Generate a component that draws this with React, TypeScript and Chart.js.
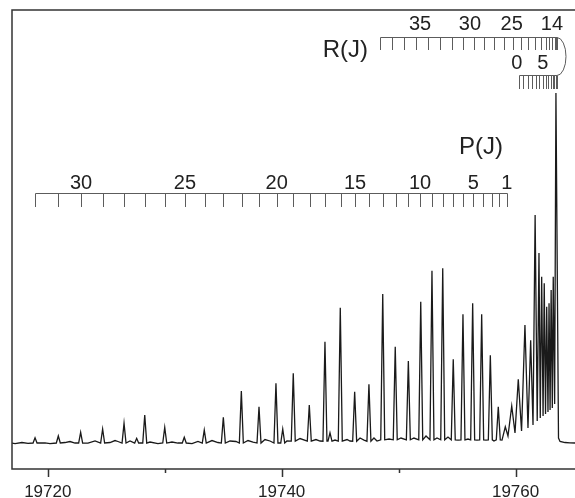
import React, { useEffect, useRef } from 'react';
import { Chart, registerables } from 'chart.js';

Chart.register(...registerables);

// ---------- axis ----------
const xMin = 19716.94;
const xMax = 19765.08;
const yMin = -5.66;
const yMax = 94.34;
const xTickValues = [19720, 19730, 19740, 19750, 19760];
const xLabelValues = [19720, 19740, 19760];

// ---------- P branch assignment comb (J = 1 .. 32) ----------
const pJ = [1, 2, 3, 4, 5, 6, 7, 8, 9, 10, 11, 12, 13, 14, 15, 16, 17, 18, 19, 20, 21, 22, 23, 24, 25, 26, 27, 28, 29, 30, 31, 32];
const pWn = [
  19759.24, 19758.61, 19757.96, 19757.19, 19756.38, 19755.53, 19754.67, 19753.77,
  19752.83, 19751.83, 19750.77, 19749.75, 19748.64, 19747.46, 19746.27, 19745.04,
  19743.70, 19742.42, 19740.99, 19739.57, 19738.08, 19736.58, 19735.01, 19733.44,
  19731.73, 19730.02, 19728.31, 19726.54, 19724.69, 19722.84, 19720.85, 19718.91,
];
const pLabelJ = [1, 5, 10, 15, 20, 25, 30];

// ---------- R branch comb, upper part (J = 36 .. 14, head at 14) ----------
const rUpperJ = [36, 35, 34, 33, 32, 31, 30, 29, 28, 27, 26, 25, 24, 23, 22, 21, 20, 19, 18, 17, 16, 15, 14];
const rUpperWn = [
  19748.41, 19749.45, 19750.48, 19751.51, 19752.55, 19753.54, 19754.55, 19755.52,
  19756.46, 19757.32, 19758.17, 19758.97, 19759.74, 19760.45, 19761.10, 19761.68,
  19762.16, 19762.56, 19762.87, 19763.13, 19763.33, 19763.46, 19763.54,
];
const rUpperLabels = ['35', '30', '25', '14'];
const rUpperLabelWn = [19751.83, 19756.10, 19759.67, 19763.11];

// ---------- R branch comb, lower part (J = 0 .. 13) ----------
const rLowerJ = [0, 1, 2, 3, 4, 5, 6, 7, 8, 9, 10, 11, 12, 13];
const rLowerWn = [
  19760.29, 19760.66, 19761.04, 19761.38, 19761.72, 19762.03, 19762.32,
  19762.57, 19762.80, 19763.00, 19763.17, 19763.31, 19763.43, 19763.51,
];
const rLowerLabels = ['0', '5'];
const rLowerLabelWn = [19760.10, 19762.32];

// ---------- spectrum: line peaks ----------
const peakWn = [
  19718.91, 19720.90, 19722.81, 19724.69, 19726.52, 19727.60, 19728.29, 19730.00,
  19731.67, 19733.38, 19735.01, 19736.55, 19738.06, 19739.51, 19740.09, 19740.99,
  19742.36, 19743.70, 19744.13, 19745.01, 19746.24, 19747.46, 19748.64, 19749.71,
  19750.83, 19751.89, 19752.85, 19753.77, 19754.67, 19755.50, 19756.33, 19757.10,
  19757.84, 19758.52, 19759.12, 19759.67, 19760.23, 19760.80, 19761.29, 19761.67,
  19762.00, 19762.23, 19762.45, 19762.66, 19762.86, 19763.04, 19763.22, 19763.45,
];
const peakInt = [
  1.15, 1.53, 2.33, 3.05, 4.29, 1.02, 6.10, 3.42,
  1.24, 2.83, 5.60, 11.33, 7.91, 13.01, 3.05, 15.19,
  8.28, 22.07, 2.24, 29.48, 11.18, 12.79, 32.46, 20.98,
  17.86, 30.78, 37.54, 38.06, 18.24, 28.04, 30.44, 28.04,
  19.11, 7.91, 3.55, 8.06, 13.88, 25.71, 22.4, 49.67,
  41.39, 36.23, 34.79, 29.69, 30.44, 33.33, 36.23, 76.25,
];
// foot level of each line (null: line sits between listed valley points)
const peakFoot = [
  0, 0, 0, 0, 0, 0, 0, 0,
  0, 0, 0, 0, 0, 0, 0, 0.4,
  0.4, 0.4, 0.4, 0.4, 0.4, 0.4, 0.7, 0.7,
  0.7, 0.7, 0.7, 0.7, 0.7, 0.7, 0.7, 0.7,
  0.7, 0.7, null, null, null, null, null, null,
  null, null, null, null, null, null, null, null,
];
const lineHalfWidth = 0.17;

// ---------- spectrum: baseline / valley points ----------
const valleyWn = [
  19716.94, 19717.20, 19717.79, 19718.31, 19719.76, 19720.19, 19721.47, 19721.90,
  19722.33, 19723.44, 19724.04, 19725.32, 19725.75, 19726.00, 19727.03, 19728.74,
  19729.42, 19730.62, 19731.13, 19732.33, 19732.84, 19734.04, 19734.55, 19735.58,
  19736.09, 19737.12, 19737.55, 19738.57, 19739.00, 19740.45, 19741.57, 19742.93,
  19743.28, 19744.56, 19745.59, 19745.84, 19746.70, 19747.04, 19747.89, 19748.15,
  19749.18, 19750.20, 19751.31, 19752.34, 19753.28, 19754.22, 19755.08, 19755.93,
  19756.70, 19757.47, 19758.15, 19758.84, 19759.35, 19759.95, 19760.51, 19761.06,
  19761.49, 19761.85, 19762.11, 19762.35, 19762.56, 19762.77, 19762.95, 19763.14,
  19763.34, 19763.67, 19763.80, 19764.23, 19764.65, 19765.08,
];
const valleyInt = [
  0, -0.11, 0.11, -0.07, 0.04, -0.11, 0.11, 0.33,
  0, -0.04, 0.44, 0.11, 0.54, 0.33, 0.44, 0.22,
  -0.11, 0.22, 0, -0.11, 0.33, 0.54, 0.11, 0.44,
  0.33, 0.54, 0.22, 0.76, 0.44, 0.44, 0.98, 0.76,
  0.44, 0.65, 0.76, 0.44, 1.09, 0.65, 1.09, 0.44,
  0.87, 1.09, 1.09, 1.53, 1.09, 1.31, 0.65, 0.87,
  0.65, 0.65, 0.44, 0.65, 1.53, 2.18, 2.61, 3.27,
  3.92, 4.79, 5.45, 5.88, 6.32, 6.75, 7.19, 7.62,
  8.50, 1.09, 0.33, 0.11, 0.04, 0,
];

function buildTrace() {
  const pts: { x: number; y: number }[] = [];
  valleyWn.forEach((w, i) => pts.push({ x: w, y: valleyInt[i] }));
  peakWn.forEach((w, i) => {
    pts.push({ x: w, y: peakInt[i] });
    const f = peakFoot[i];
    if (f !== null) {
      pts.push({ x: w - lineHalfWidth, y: f });
      pts.push({ x: w + lineHalfWidth, y: f });
    }
  });
  pts.sort((a, b) => a.x - b.x);
  return pts;
}

const FONT = "'Liberation Sans', Arial, sans-serif";
const TEXT = '#222';
const COMB = '#5c5c5c';

const annotPlugin = {
  id: 'annot',
  afterDraw(chart: any) {
    const { ctx, chartArea: a, scales } = chart;
    const x = scales.x;
    const px = (v: number) => Math.round(x.getPixelForValue(v)) + 0.5;
    ctx.save();

    // frame (top, left, bottom)
    ctx.strokeStyle = '#333';
    ctx.lineWidth = 1.5;
    ctx.beginPath();
    ctx.moveTo(a.right + 2, a.top);
    ctx.lineTo(a.left, a.top);
    ctx.lineTo(a.left, a.bottom);
    ctx.lineTo(a.right + 2, a.bottom);
    ctx.stroke();

    // x tick marks
    ctx.beginPath();
    xTickValues.forEach((v) => {
      const len = xLabelValues.includes(v) ? 8 : 4;
      ctx.moveTo(px(v), a.bottom);
      ctx.lineTo(px(v), a.bottom + len);
    });
    ctx.stroke();

    // ---- combs ----
    ctx.strokeStyle = COMB;
    ctx.lineWidth = 1;

    // P comb
    const pTop = 193.5, pTick = 207;
    ctx.beginPath();
    ctx.moveTo(px(pWn[pWn.length - 1]), pTop);
    ctx.lineTo(px(pWn[0]), pTop);
    pWn.forEach((w) => {
      ctx.moveTo(px(w), pTop);
      ctx.lineTo(px(w), pTick);
    });
    ctx.stroke();

    // R comb upper
    const rTop = 37.5, rTick = 50;
    const headX = x.getPixelForValue(rUpperWn[rUpperWn.length - 1]);
    ctx.beginPath();
    ctx.moveTo(px(rUpperWn[0]), rTop);
    ctx.lineTo(headX, rTop);
    rUpperWn.forEach((w) => {
      ctx.moveTo(px(w), rTop);
      ctx.lineTo(px(w), rTick);
    });
    ctx.stroke();

    // R comb lower
    const rLow = 75.5, rLowTick = 89;
    ctx.beginPath();
    ctx.moveTo(px(rLowerWn[0]), rLow);
    ctx.lineTo(headX, rLow);
    rLowerWn.forEach((w) => {
      ctx.moveTo(px(w), rLow);
      ctx.lineTo(px(w), rLowTick);
    });
    ctx.stroke();

    // turning arc at the band head
    ctx.beginPath();
    ctx.ellipse(headX, (rTop + rLow) / 2, 9, (rLow - rTop) / 2, 0, -Math.PI / 2, Math.PI / 2);
    ctx.stroke();

    // ---- labels ----
    ctx.fillStyle = TEXT;
    ctx.textAlign = 'center';
    ctx.textBaseline = 'middle';
    ctx.font = `20px ${FONT}`;
    pLabelJ.forEach((j) => {
      const w = pWn[pJ.indexOf(j)];
      ctx.fillText(String(j), x.getPixelForValue(w), 183);
    });
    rUpperLabels.forEach((t, i) => {
      ctx.fillText(t, x.getPixelForValue(rUpperLabelWn[i]), 24);
    });
    rLowerLabels.forEach((t, i) => {
      ctx.fillText(t, x.getPixelForValue(rLowerLabelWn[i]), 63);
    });

    ctx.font = `24px ${FONT}`;
    ctx.textAlign = 'right';
    ctx.fillText('R(J)', 368, 50);
    ctx.fillText('P(J)', 503, 147);

    ctx.restore();
  },
};

export default function App() {
  const ref = useRef<HTMLCanvasElement | null>(null);

  useEffect(() => {
    if (!ref.current) return;
    const chart = new Chart(ref.current, {
      type: 'line',
      data: {
        datasets: [
          {
            data: buildTrace(),
            borderColor: '#1a1a1a',
            borderWidth: 1.3,
            pointRadius: 0,
            tension: 0,
            fill: false,
          },
        ],
      },
      options: {
        animation: false,
        responsive: false,
        devicePixelRatio: 1,
        parsing: false,
        normalized: true,
        layout: { padding: { left: 12, top: 10, right: 0, bottom: 0 } },
        plugins: {
          legend: { display: false },
          tooltip: { enabled: false },
          title: { display: false },
        },
        events: [],
        scales: {
          x: {
            type: 'linear',
            min: xMin,
            max: xMax,
            grid: { display: false, drawTicks: false },
            border: { display: false },
            afterBuildTicks: (scale: any) => {
              scale.ticks = xTickValues.map((v) => ({ value: v }));
            },
            afterFit: (scale: any) => {
              scale.height = 29;
            },
            ticks: {
              autoSkip: false,
              maxRotation: 0,
              padding: 13,
              color: TEXT,
              font: { family: FONT, size: 17 },
              callback: (v: any) => (xLabelValues.includes(Number(v)) ? String(v) : ''),
            },
          },
          y: {
            display: false,
            min: yMin,
            max: yMax,
          },
        },
      },
      plugins: [annotPlugin],
    });
    return () => chart.destroy();
  }, []);

  return (
    <div style={{ position: 'fixed', left: 0, top: 0, width: 575, height: 498, background: '#fff' }}>
      <canvas ref={ref} width={575} height={498} style={{ display: 'block' }} />
    </div>
  );
}
